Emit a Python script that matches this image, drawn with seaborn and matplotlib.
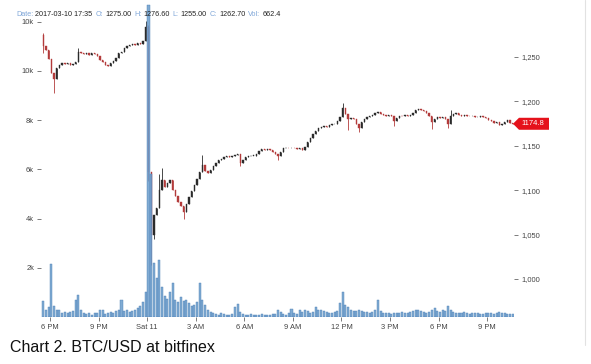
import matplotlib
matplotlib.use("Agg")
import matplotlib.pyplot as plt
import seaborn as sns
import numpy as np
import pandas as pd
from matplotlib.patches import Polygon
from matplotlib.lines import Line2D

# 10-minute candles
START = "2017-03-10 17:35"
OPEN_FIRST = 1275.0
CLOSE = [
    1262, 1258, 1248, 1232, 1225, 1238, 1241, 1243, 1242, 1243,
    1241, 1242, 1244, 1256, 1254, 1253, 1255, 1252, 1254, 1253,
    1251, 1247, 1244, 1241, 1240, 1243, 1246, 1249, 1255, 1256,
    1260, 1262, 1264, 1265, 1264, 1266, 1265, 1268, 1284, 1120,
    1050, 1072, 1080, 1100, 1112, 1104, 1108, 1112, 1100, 1093,
    1087, 1082, 1075, 1084, 1092, 1099, 1106, 1113, 1121, 1128,
    1122, 1119, 1123, 1127, 1131, 1134, 1135, 1137, 1138, 1137,
    1139, 1140, 1141, 1131, 1134, 1137, 1138, 1139, 1139, 1141,
    1144, 1146, 1145, 1146, 1145, 1143, 1141, 1138, 1143, 1147,
    1148, 1147, 1148, 1147, 1146, 1147, 1145, 1149, 1154, 1159,
    1163, 1167, 1170, 1171, 1172, 1171, 1173, 1174, 1175, 1178,
    1182, 1193, 1186, 1180, 1181, 1180, 1175, 1170, 1177, 1180,
    1182, 1183, 1185, 1187, 1188, 1186, 1185, 1184, 1185, 1183,
    1178, 1181, 1184, 1183, 1185, 1183, 1185, 1187, 1190, 1191,
    1190, 1189, 1187, 1184, 1177, 1180, 1182, 1181, 1182, 1180,
    1175, 1184, 1186, 1187, 1185, 1184, 1185, 1184, 1183, 1183,
    1182, 1182, 1183, 1182, 1181, 1179, 1178, 1176, 1177, 1173,
    1174, 1177, 1179, 1176, 1174.8,
]
# wicks that stick out past the body (candle index -> price)
HIGH_SPIKES = {0: 1277, 13: 1260, 38: 1291, 39: 1286, 43: 1118, 44: 1125,
               59: 1140, 111: 1198, 151: 1190}
LOW_SPIKES = {0: 1255, 4: 1210, 39: 1110, 40: 1016, 41: 1045, 52: 1068,
              73: 1127, 87: 1134, 113: 1168, 117: 1165, 130: 1172,
              144: 1169, 150: 1170}
VOLUME = [
    650, 300, 420, 2150, 450, 280, 300, 180, 220, 150,
    200, 250, 700, 900, 300, 150, 120, 180, 100, 150,
    180, 300, 280, 120, 150, 200, 180, 250, 300, 700,
    250, 280, 200, 260, 300, 350, 450, 600, 1000, 12700,
    5800, 2200, 1600, 2300, 1200, 850, 750, 1000, 1400, 700,
    600, 800, 650, 700, 550, 450, 500, 600, 1380, 700,
    480, 300, 200, 150, 120, 100, 150, 120, 100, 80,
    140, 400, 530, 200, 120, 100, 90, 110, 80, 100,
    90, 120, 100, 80, 90, 110, 130, 280, 200, 120,
    100, 150, 320, 150, 120, 280, 200, 300, 250, 180,
    220, 400, 280, 300, 250, 200, 180, 150, 200, 250,
    560, 1000, 500, 400, 300, 250, 240, 280, 250, 200,
    220, 180, 200, 300, 690, 250, 150, 180, 160, 140,
    170, 150, 160, 200, 180, 150, 200, 250, 280, 300,
    260, 200, 180, 200, 300, 360, 250, 200, 300, 250,
    450, 300, 200, 180, 150, 160, 200, 170, 140, 150,
    180, 160, 140, 130, 150, 170, 160, 140, 180, 200,
    170, 150, 130, 140, 120,
]
TICK_HOURS = [0, 3, 6, 9, 12, 15, 18, 21, 24, 27]
TICK_LABELS = ["6 PM", "9 PM", "Sat 11", "3 AM", "6 AM", "9 AM",
               "12 PM", "3 PM", "6 PM", "9 PM"]
PRICE_TICKS = [1000, 1050, 1100, 1150, 1200, 1250]
VOL_TICKS = [2000, 4000, 6000, 8000, 10000, 12000]
VOL_LABELS = ["2k", "4k", "6k", "8k", "10k", "10k"]
HEADER = [("Date:", "2017-03-10 17:35"), ("O:", "1275.00"), ("H:", "1276.60"),
          ("L:", "1255.00"), ("C:", "1262.70"), ("Vol:", "662.4")]
LAST_PRICE = "1174.8"
CAPTION = "Chart 2. BTC/USD at bitfinex"

assert len(CLOSE) == len(VOLUME)

W, H = 591, 364
sns.set_theme(style="white")
plt.rcParams["font.family"] = ["Liberation Sans", "DejaVu Sans"]

times = pd.date_range(START, periods=len(CLOSE), freq="10min")
hours = ((times - pd.Timestamp("2017-03-10 18:00")).total_seconds() / 3600).to_numpy()
dt = 10 / 60
opens = [OPEN_FIRST] + CLOSE[:-1]
highs = [HIGH_SPIKES.get(i, max(o, c)) for i, (o, c) in enumerate(zip(opens, CLOSE))]
lows = [LOW_SPIKES.get(i, min(o, c)) for i, (o, c) in enumerate(zip(opens, CLOSE))]

fig = plt.figure(figsize=(W / 100, H / 100), dpi=100)
left_px, right_px, top_px, bot_px = 41, 514, 3, 317
ax = fig.add_axes([left_px / W, 1 - bot_px / H, (right_px - left_px) / W, (bot_px - top_px) / H])
axv = ax.twinx()

# price scale: 1,200 at y=101.4 px, 0.888 px per dollar
ppd = 0.888
ax.set_ylim(1200 + (101.4 - bot_px) / ppd, 1200 + (101.4 - top_px) / ppd)
ax.set_xlim((left_px - 50) / 16.19, (right_px - 50) / 16.19)

# candles
up_col, down_col = "#2b2b2b", "#b33b3b"
cols = [up_col if c >= o else down_col for o, c in zip(opens, CLOSE)]
ax.vlines(hours, lows, highs, colors=cols, linewidth=0.6, zorder=2)
body = [max(abs(c - o), 0.6) for o, c in zip(opens, CLOSE)]
ax.bar(hours, body, bottom=[min(o, c) for o, c in zip(opens, CLOSE)],
       width=dt * 0.5, color=cols, edgecolor=cols, linewidth=0.3, zorder=3)

# volume
sns.histplot(x=hours, weights=VOLUME, bins=len(hours),
             binrange=(hours[0] - dt / 2, hours[-1] + dt / 2), shrink=0.75,
             color="#6b9ccc", edgecolor="#4c80b6", linewidth=0.3, alpha=0.85, ax=axv)
axv.set_ylim(0, (bot_px - top_px) * 40.65)
axv.set_ylabel("")
ax.set_ylabel("")

for a in (ax, axv):
    for s in a.spines.values():
        s.set_visible(False)
    a.grid(False)

ax.yaxis.tick_right()
axv.yaxis.tick_left()
ax.set_yticks(PRICE_TICKS, [f"{p:,}" for p in PRICE_TICKS])
axv.set_yticks(VOL_TICKS, VOL_LABELS)
ax.set_xticks(TICK_HOURS, TICK_LABELS)
tick_kw = dict(length=3, width=0.6, color="#666666", labelcolor="#444444", labelsize=5.4, pad=2)
ax.tick_params(axis="y", right=True, left=False, **tick_kw)
axv.tick_params(axis="y", left=True, right=False, **tick_kw)
ax.tick_params(axis="x", bottom=True, **tick_kw)

# last price tag
fig.canvas.draw()
_, ytag = ax.transData.transform((0, CLOSE[-1]))
ytag_px = H - ytag
tag = [(513, ytag_px), (519, ytag_px - 6), (549, ytag_px - 6), (549, ytag_px + 6), (519, ytag_px + 6)]
fig.add_artist(Polygon([(x / W, 1 - y / H) for x, y in tag], closed=True,
                       facecolor="#e5121b", edgecolor="none", transform=fig.transFigure))
fig.text(521 / W, 1 - ytag_px / H, LAST_PRICE, color="white", fontsize=5.5,
         ha="left", va="center")

# header line
renderer = fig.canvas.get_renderer()
x = 16
for lab, val in HEADER:
    for txt, col in ((lab, "#7fa6d8"), (val, "#222222")):
        t = fig.text(x / W, 1 - 14 / H, txt, color=col, fontsize=5.2, ha="left", va="center")
        x = t.get_window_extent(renderer).x1 + 2
    x += 1

fig.text(10 / W, 1 - 348 / H, CAPTION, fontsize=11.5, color="#111111", ha="left", va="center")
fig.add_artist(Line2D([585 / W, 585 / W], [1 - 345 / H, 1], color="#e2e2e2", linewidth=0.8,
                      transform=fig.transFigure))

fig.savefig("out.png", dpi=100)
